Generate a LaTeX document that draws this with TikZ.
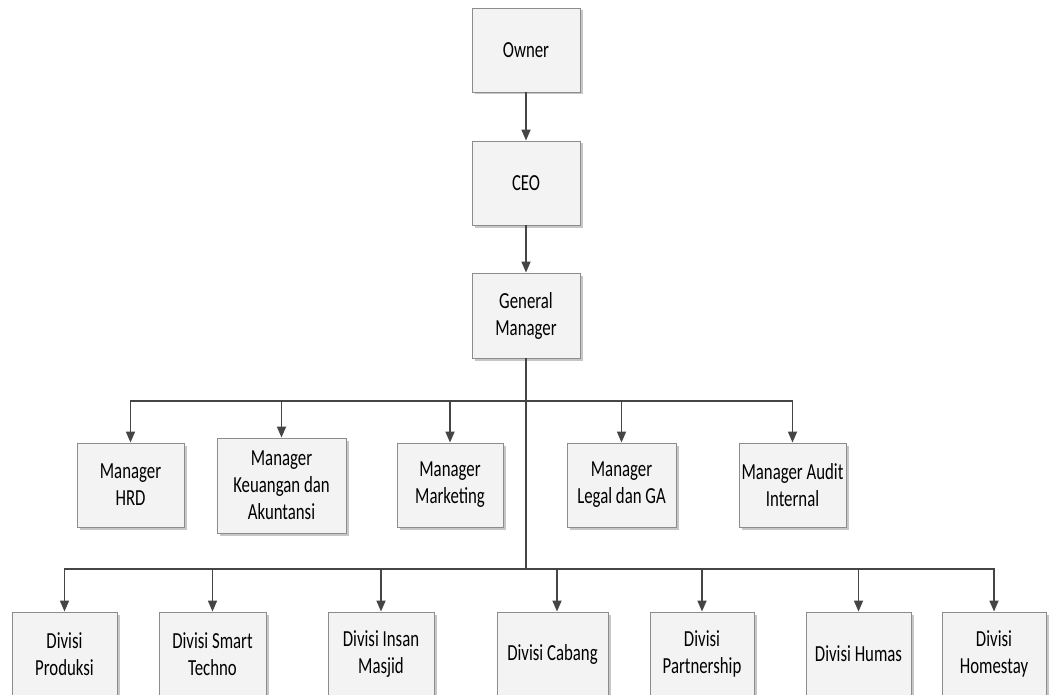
\documentclass[tikz,border=0pt]{standalone}
\usepackage{fontspec}
\setmainfont{Carlito}[FakeStretch=0.73]
\usetikzlibrary{arrows.meta,shadows}

\definecolor{boxline}{HTML}{8C8C8C}
\definecolor{boxfill}{HTML}{F3F3F3}
\definecolor{linkline}{HTML}{454545}

\tikzset{
  orgbox/.style={draw=boxline, fill=boxfill, line width=0.9pt, align=center,
    inner sep=2pt, minimum height=84pt,
    font=\fontsize{23}{27}\selectfont,
    drop shadow={shadow xshift=2.5pt, shadow yshift=-2.5pt, fill=black!22, opacity=1}},
  link/.style={draw=linkline, line width=1.7pt},
  arrowlink/.style={link, -{Triangle[width=9pt,length=11pt]}}
}

\begin{document}
\begin{tikzpicture}[x=1pt,y=-1pt]
  \useasboundingbox (0,0) rectangle (1056,695);

  % top chain
  \node[orgbox, minimum width=108pt] (owner) at (526,50) {Owner};
  \node[orgbox, minimum width=108pt] (ceo) at (526,183) {CEO};
  \node[orgbox, minimum width=108pt, minimum height=85pt] (gm) at (526,315.5) {General\\Manager};

  % managers
  \node[orgbox, minimum width=107pt] (mhrd) at (130.5,485) {Manager\\HRD};
  \node[orgbox, minimum width=129pt, minimum height=95pt] (mkeu) at (281.5,485.5) {Manager\\Keuangan dan\\Akuntansi};
  \node[orgbox, minimum width=106pt] (mmkt) at (450,485) {Manager\\Marketing};
  \node[orgbox, minimum width=109pt] (mlegal) at (621.5,485) {Manager\\Legal dan GA};
  \node[orgbox, minimum width=107pt] (maudit) at (792.5,485) {Manager Audit\\Internal};

  % divisions
  \node[orgbox, minimum width=105pt] (dprod) at (64.5,654) {Divisi\\Produksi};
  \node[orgbox, minimum width=107pt] (dsmart) at (212.5,654) {Divisi Smart\\Techno};
  \node[orgbox, minimum width=106pt] (dinsan) at (381,654) {Divisi Insan\\Masjid};
  \node[orgbox, minimum width=111pt] (dcabang) at (552.5,654) {Divisi Cabang};
  \node[orgbox, minimum width=104pt] (dpartner) at (702,654) {Divisi\\Partnership};
  \node[orgbox, minimum width=105pt] (dhumas) at (858.5,654) {Divisi Humas};
  \node[orgbox, minimum width=104pt] (dhome) at (994,654) {Divisi\\Homestay};

  \coordinate (mbus) at (526,401);
  \coordinate (dbus) at (526,569);

  \draw[arrowlink] (owner) -- (ceo);
  \draw[arrowlink] (ceo) -- (gm);
  \draw[link] (gm) -- (dbus);

  \foreach \mgr in {mhrd,mkeu,mmkt,mlegal,maudit}
    \draw[arrowlink] (mbus) -| (\mgr.north);
  \foreach \div in {dprod,dsmart,dinsan,dpartner,dhumas,dhome}
    \draw[arrowlink] (dbus) -| (\div.north);
  \draw[arrowlink] (dbus) -| ([xshift=4.5pt]dcabang.north);
\end{tikzpicture}
\end{document}
